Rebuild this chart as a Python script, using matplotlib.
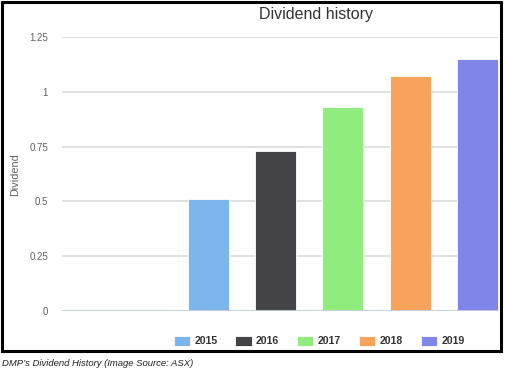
import matplotlib.pyplot as plt
from matplotlib.patches import Rectangle

years = ['2015', '2016', '2017', '2018', '2019']
dividends = [0.51, 0.73, 0.93, 1.07, 1.15]
colors = ['#7cb5ec', '#434348', '#90ed7d', '#f7a35c', '#8085e9']
yticks = [0, 0.25, 0.5, 0.75, 1, 1.25]
ytick_labels = ['0', '0.25', '0.5', '0.75', '1', '1.25']

plt.rcParams['font.family'] = ['Liberation Sans', 'DejaVu Sans']

W, H = 505, 371
fig = plt.figure(figsize=(W / 100, H / 100), dpi=100)
ax = fig.add_axes([62 / W, 1 - 311 / H, (499 - 62) / W, (311 - 37) / H])

for i, (yr, val) in enumerate(zip(years, dividends)):
    ax.bar(i, val, width=0.61, color=colors[i], edgecolor='white',
           linewidth=0.6, label=yr, zorder=3)

ax.set_xlim(-2.178, 4.32)
ax.set_ylim(0, 1.25)
ax.set_yticks(yticks)
ax.set_yticklabels(ytick_labels)
ax.set_xticks([])
ax.tick_params(axis='y', length=0, pad=10, labelsize=7, labelcolor='#606060')
for s in ax.spines.values():
    s.set_visible(False)
ax.yaxis.grid(True, color='#e0e0e0', linewidth=1.4, zorder=0)
ax.axhline(0, color='#c8d0e0', linewidth=1.3, zorder=4)

fig.text(316 / W, 1 - 15 / H, 'Dividend history', ha='center', va='center',
         fontsize=11.5, color='#333333')
fig.text(15 / W, 1 - 175 / H, 'Dividend', ha='center', va='center',
         rotation=90, fontsize=7.8, color='#606060')

leg = fig.legend(loc='center', bbox_to_anchor=(319 / W, 1 - 341 / H), ncol=5,
                 frameon=False, handlelength=1.55, handleheight=1.15,
                 handletextpad=0.4, columnspacing=1.7,
                 prop={'weight': 'bold', 'size': 7.6})
for t in leg.get_texts():
    t.set_color('#333333')

fig.text(2 / W, 1 - 363 / H, "DMP\u2019s Dividend History (Image Source: ASX)",
         ha='left', va='center', fontsize=6.8, style='italic', color='#222222')

fig.patches.append(Rectangle((1.5 / W, 1 - 350.5 / H), 499 / W, 349 / H,
                             transform=fig.transFigure, fill=False,
                             edgecolor='black', linewidth=2.2))

fig.savefig('out.png', dpi=100)
